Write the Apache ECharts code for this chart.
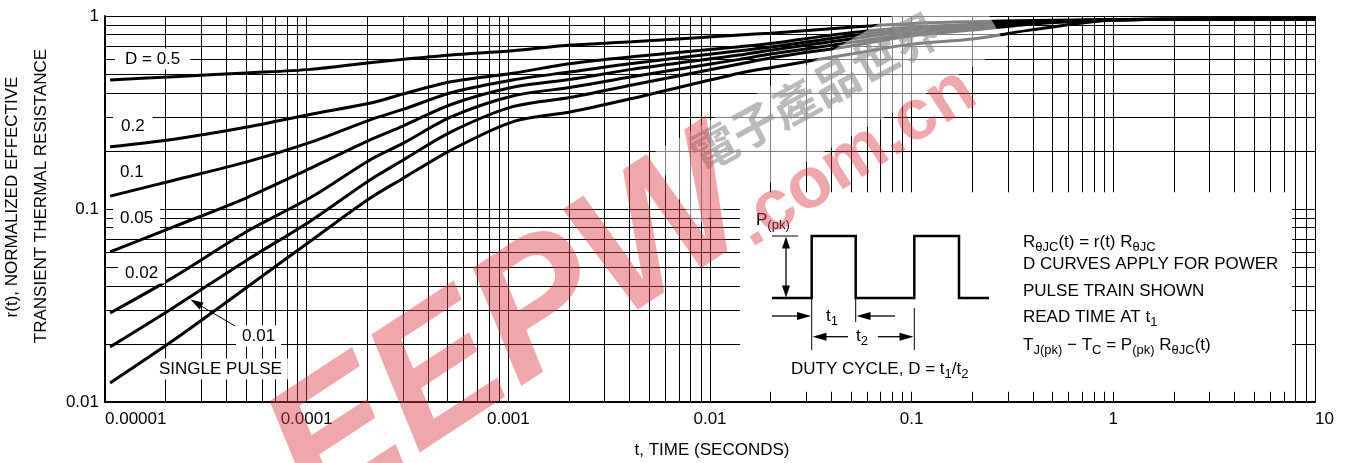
<!DOCTYPE html>
<html><head><meta charset="utf-8">
<script src="https://cdn.jsdelivr.net/npm/echarts@6/dist/echarts.min.js"></script>
<style>html,body{margin:0;padding:0;background:#fff}#c{width:1348px;height:463px}</style>
</head><body><div id="c"></div>
<script>
// ---- data ----
const TIME   = [1.06e-5, 2.2e-5, 5e-5, 1.05e-4, 2.05e-4, 3e-4, 5.2e-4, 1.05e-3, 2.05e-3, 4.1e-3, 0.014, 0.02, 0.05, 0.1, 0.2, 0.4, 1, 2, 10];
const D_050  = [0.466, 0.485, 0.507, 0.529, 0.573, 0.596, 0.628, 0.661, 0.707, 0.736, 0.797, 0.815, 0.875, 0.915, 0.935, 0.948, 0.958, 0.963, 0.965];
const D_020  = [0.210, 0.230, 0.265, 0.310, 0.353, 0.394, 0.456, 0.505, 0.568, 0.615, 0.693, 0.720, 0.820, 0.875, 0.905, 0.935, 0.957, 0.963, 0.965];
const D_010  = [0.1166, 0.141, 0.175, 0.222, 0.289, 0.328, 0.400, 0.466, 0.514, 0.568, 0.661, 0.690, 0.790, 0.855, 0.890, 0.930, 0.956, 0.963, 0.965];
const D_005  = [0.060, 0.081, 0.114, 0.163, 0.2275, 0.269, 0.348, 0.427, 0.470, 0.529, 0.628, 0.665, 0.760, 0.835, 0.875, 0.925, 0.955, 0.963, 0.965];
const D_002  = [0.0289, 0.0445, 0.076, 0.115, 0.179, 0.2187, 0.300, 0.385, 0.427, 0.484, 0.596, 0.635, 0.730, 0.810, 0.860, 0.920, 0.955, 0.963, 0.965];
const D_001  = [0.0193, 0.031, 0.054, 0.087, 0.141, 0.179, 0.251, 0.339, 0.379, 0.439, 0.564, 0.606, 0.700, 0.790, 0.845, 0.910, 0.954, 0.963, 0.965];
const SINGLE = [0.01255, 0.021, 0.039, 0.0685, 0.1134, 0.144, 0.202, 0.283, 0.319, 0.374, 0.505, 0.540, 0.635, 0.715, 0.760, 0.850, 0.953, 0.962, 0.965];
const SERIES_NAMES = ['D = 0.5', '0.2', '0.1', '0.05', '0.02', '0.01', 'SINGLE PULSE'];
const X_TICKS = ['0.00001', '0.0001', '0.001', '0.01', '0.1', '1', '10'];
const Y_TICKS = ['0.01', '0.1', '1'];
const X_DECADES = [-5, -4, -3, -2, -1, 0];
const Y_DECADES = [-2, -1];
// area of the inset (in data units) where the log-paper grid is blank
const BOX_TOP = 0.122, BOX_LEFT = 0.0141, BOX_RIGHT = 7.7, TICK_TOP = 0.0113;

const FONT = 'Liberation Sans, Arial, sans-serif';
const chart = echarts.init(document.getElementById('c'));

// grid segments
const segs = [];
function seg(x1, y1, x2, y2) { segs.push({ coords: [[x1, y1], [x2, y2]] }); }
X_DECADES.forEach(k => {
  for (let m = 1; m <= 9; m++) {
    if (k === -5 && m === 1) continue;
    const t = m * Math.pow(10, k);
    if (t <= 0.0101 || t >= 7.9) seg(t, 0.01, t, 1);
    else { seg(t, BOX_TOP, t, 1); seg(t, 0.01, t, TICK_TOP); }
  }
});
seg(10, 0.01, 10, 1);
Y_DECADES.forEach(k => {
  for (let m = 1; m <= 9; m++) {
    if (k === -2 && m === 1) continue;
    const v = m * Math.pow(10, k);
    if (v >= 0.15) seg(1e-5, v, 10, v);
    else { seg(1e-5, v, BOX_LEFT, v); seg(BOX_RIGHT, v, 10, v); }
  }
});
seg(1e-5, 1, 10, 1);

const curves = [D_050, D_020, D_010, D_005, D_002, D_001, SINGLE].map((vals, i) => ({
  name: SERIES_NAMES[i], type: 'line', data: TIME.map((t, j) => [t, vals[j]]),
  showSymbol: false, smooth: 0.3, clip: true, z: 3, silent: true,
  lineStyle: { color: '#000', width: 3 }
}));

// ---- graphic helpers (annotations / inset pictogram) ----
function arrowHead(tx, ty, fx, fy, L, W) {
  const dx = tx - fx, dy = ty - fy, d = Math.hypot(dx, dy), ux = dx / d, uy = dy / d;
  const bx = tx - ux * L, by = ty - uy * L, nx = -uy, ny = ux;
  return { type: 'polygon', z: 6, shape: { points: [[tx, ty], [bx + nx * W / 2, by + ny * W / 2], [bx - nx * W / 2, by - ny * W / 2]] }, style: { fill: '#000' } };
}
function ln(x1, y1, x2, y2, w) { return { type: 'line', z: 6, shape: { x1, y1, x2, y2 }, style: { stroke: '#000', lineWidth: w || 1 } }; }
function label(text, x, y, pad) {
  return { type: 'text', z: 5, x, y, style: { text, fontSize: 17, fontFamily: FONT, fill: '#000', textVerticalAlign: 'middle', textAlign: 'left', backgroundColor: '#fff', padding: pad } };
}
const RICH = {
  n: { fontSize: 17, fontFamily: FONT, lineHeight: 24, verticalAlign: 'middle', fill: '#000' },
  s: { fontSize: 13, fontFamily: FONT, lineHeight: 13, verticalAlign: 'bottom', fill: '#000' }
};
function rtext(text, x, y) {
  return { type: 'text', z: 6, x, y, style: { text, rich: RICH, textVerticalAlign: 'middle', textAlign: 'left', fill: '#000', fontSize: 17, fontFamily: FONT } };
}

const graphics = [
  // axis titles
  { type: 'text', x: 12, y: 197, rotation: Math.PI / 2, style: { text: 'r(t), NORMALIZED EFFECTIVE', fontSize: 17, fontFamily: FONT, fill: '#000', textAlign: 'center', textVerticalAlign: 'middle' } },
  { type: 'text', x: 41, y: 196, rotation: Math.PI / 2, style: { text: 'TRANSIENT THERMAL RESISTANCE', fontSize: 17, fontFamily: FONT, fill: '#000', textAlign: 'center', textVerticalAlign: 'middle' } },
  { type: 'text', x: 712, y: 450, style: { text: 't, TIME (SECONDS)', fontSize: 17, fontFamily: FONT, fill: '#000', textAlign: 'center', textVerticalAlign: 'middle' } },
  // curve labels
  label('D = 0.5', 115, 59, [2, 10, 2, 10]),
  label('0.2', 113, 126, [2, 8, 2, 8]),
  label('0.1', 113, 172, [2, 7, 2, 7]),
  label('0.05', 113, 218, [2, 7, 2, 7]),
  label('0.02', 118, 273, [2, 7, 2, 7]),
  label('0.01', 236, 336, [2, 6, 2, 6]),
  label('SINGLE PULSE', 153, 369, [2, 6, 2, 6]),
  ln(235, 326, 196, 303, 1),
  arrowHead(190.5, 299.5, 235, 326, 13, 8),
  // inset pulse train
  { type: 'polyline', z: 6, shape: { points: [[772, 298], [811.7, 298], [811.7, 236], [855.7, 236], [855.7, 298], [914.3, 298], [914.3, 236], [959, 236], [959, 298], [989, 298]] }, style: { stroke: '#000', lineWidth: 2.5, fill: null } },
  ln(772, 236, 798, 236, 1),
  ln(786, 246, 786, 288, 1.3),
  arrowHead(786, 236.5, 786, 260, 12, 8),
  arrowHead(786, 297.5, 786, 270, 12, 8),
  ln(811.7, 299, 811.7, 350, 1), ln(855.7, 299, 855.7, 322, 1), ln(914.3, 308, 914.3, 350, 1),
  ln(772, 316, 800, 316, 1.3), arrowHead(811, 316, 790, 316, 14, 8),
  ln(895, 316, 866, 316, 1.3), arrowHead(856.5, 316, 880, 316, 14, 8),
  ln(848, 336.7, 822, 336.7, 1.3), arrowHead(812.5, 336.7, 840, 336.7, 14, 8),
  ln(878, 336.7, 904, 336.7, 1.3), arrowHead(913.5, 336.7, 890, 336.7, 14, 8),
  rtext('{n|P}{s|(pk)}', 756, 220),
  rtext('{n|t}{s|1}', 826, 316),
  rtext('{n|t}{s|2}', 856, 336),
  rtext('{n|DUTY CYCLE, D = t}{s|1}{n|/t}{s|2}', 791, 369),
  // right text block
  rtext('{n|R}{s|θJC}{n|(t) = r(t) R}{s|θJC}', 1023, 242),
  rtext('{n|D CURVES APPLY FOR POWER}', 1023, 264),
  rtext('{n|PULSE TRAIN SHOWN}', 1023, 291),
  rtext('{n|READ TIME AT t}{s|1}', 1023, 317),
  rtext('{n|T}{s|J(pk)}{n| − T}{s|C}{n| = P}{s|(pk)}{n| R}{s|θJC}{n|(t)}', 1023, 345),
  // watermark
  { type: 'rect', z: 9, x: 830, y: 100, rotation: 0.52, shape: { x: -180, y: -42, width: 360, height: 84 }, style: { fill: 'rgba(255,255,255,0.5)' } },
  { type: 'text', z: 10, x: 815, y: 92, rotation: 0.5, style: { text: '電子產品世界', fontSize: 46, fontWeight: 'bold', fontFamily: 'Noto Sans CJK TC', fill: 'rgba(140,140,140,0.6)', textAlign: 'center', textVerticalAlign: 'middle' } },
  { type: 'text', z: 10, x: 512, y: 332, rotation: 0.58, style: { text: 'EEPW', fontSize: 182, fontWeight: 'bold', fontStyle: 'italic', fontFamily: FONT, fill: 'rgba(222,60,72,0.45)', textAlign: 'center', textVerticalAlign: 'middle' } },
  { type: 'text', z: 10, x: 855, y: 158, rotation: 0.57, style: { text: '.com.cn', fontSize: 72, fontWeight: 'bold', fontFamily: FONT, fill: 'rgba(222,60,72,0.45)', textAlign: 'center', textVerticalAlign: 'middle' } }
];

chart.setOption({
  animation: false,
  backgroundColor: '#fff',
  grid: { left: 105, right: 33, top: 16, bottom: 61, show: false },
  xAxis: {
    type: 'log', logBase: 10, min: 1e-5, max: 10,
    axisLine: { show: true, onZero: false, lineStyle: { color: '#000', width: 2 } },
    axisTick: { show: false }, splitLine: { show: false },
    axisLabel: { color: '#000', fontSize: 17, fontFamily: FONT, margin: 9, alignMinLabel: 'left', alignMaxLabel: 'left',
      formatter: v => X_TICKS[Math.round(Math.log10(v)) + 5] }
  },
  yAxis: {
    type: 'log', logBase: 10, min: 0.01, max: 1,
    axisLine: { show: true, onZero: false, lineStyle: { color: '#000', width: 2 } },
    axisTick: { show: false }, splitLine: { show: false },
    axisLabel: { color: '#000', fontSize: 17, fontFamily: FONT, margin: 6,
      formatter: v => Y_TICKS[Math.round(Math.log10(v)) + 2] }
  },
  series: [
    { type: 'lines', coordinateSystem: 'cartesian2d', data: segs, silent: true, z: 1,
      lineStyle: { color: '#000', width: 1, opacity: 1 } }
  ].concat(curves),
  graphic: { elements: graphics }
});
</script></body></html>
